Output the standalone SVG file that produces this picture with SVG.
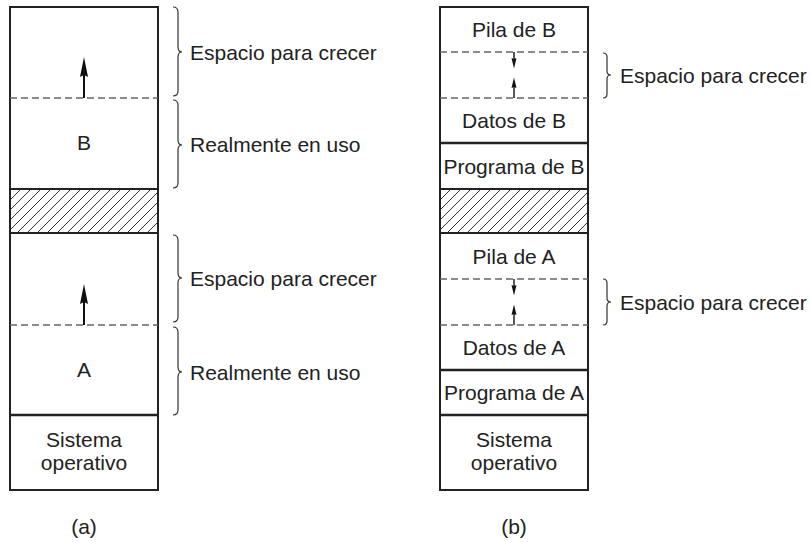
<svg xmlns="http://www.w3.org/2000/svg" width="811" height="542" viewBox="0 0 811 542">
<style>
.box{fill:#fff;stroke:#222;stroke-width:2}
.solid{stroke:#222;stroke-width:2.5;fill:none}
.dash{stroke:#666;stroke-width:1.3;stroke-dasharray:7 4;fill:none}
.brace{stroke:#333;stroke-width:1.2;fill:none}
.shaft{stroke:#111;stroke-width:2}
.shaft2{stroke:#111;stroke-width:1.4}
.head{fill:#111}
.t{font-family:"Liberation Sans",Arial,sans-serif;font-size:21px;fill:#222}
.c{text-anchor:middle}
.hatch{fill:url(#hp);stroke:#222;stroke-width:2}
</style>
<defs>
<pattern id="hp" patternUnits="userSpaceOnUse" width="10" height="10">
<rect width="10" height="10" fill="#fff"/>
<path d="M-2,12 L12,-2 M-2,2 L2,-2 M8,12 L12,8" stroke="#333" stroke-width="1"/>
</pattern>
</defs>

<g id="column-a">
<rect class="box" x="10" y="7" width="148" height="483"/>
<rect class="hatch" x="10" y="189" width="148" height="44"/>
<line class="dash" x1="10" y1="98" x2="158" y2="98"/>
<line class="dash" x1="10" y1="325" x2="158" y2="325"/>
<line class="solid" x1="10" y1="415" x2="158" y2="415"/>
</g>
<g id="a-B"><text class="t c" x="84" y="150">B</text></g>
<g id="a-A"><text class="t c" x="84" y="377">A</text></g>
<g id="a-os"><text class="t c" x="84" y="447">Sistema</text><text class="t c" x="84" y="470">operativo</text></g>

<g id="column-b">
<rect class="box" x="440" y="7" width="148" height="483"/>
<rect class="hatch" x="440" y="189" width="148" height="44"/>
<line class="dash" x1="440" y1="52" x2="588" y2="52"/>
<line class="dash" x1="440" y1="98" x2="588" y2="98"/>
<line class="solid" x1="440" y1="143" x2="588" y2="143"/>
<line class="dash" x1="440" y1="279" x2="588" y2="279"/>
<line class="dash" x1="440" y1="325" x2="588" y2="325"/>
<line class="solid" x1="440" y1="370" x2="588" y2="370"/>
<line class="solid" x1="440" y1="415" x2="588" y2="415"/>
</g>
<g id="b-pilaB"><text class="t c" x="514" y="37">Pila de B</text></g>
<g id="b-datosB"><text class="t c" x="514" y="128">Datos de B</text></g>
<g id="b-progB"><text class="t c" x="514" y="173.5">Programa de B</text></g>
<g id="b-pilaA"><text class="t c" x="514" y="263.5">Pila de A</text></g>
<g id="b-datosA"><text class="t c" x="514" y="355">Datos de A</text></g>
<g id="b-progA"><text class="t c" x="514" y="400">Programa de A</text></g>
<g id="b-os"><text class="t c" x="514" y="447">Sistema</text><text class="t c" x="514" y="470">operativo</text></g>

<g id="connectors">
<line class="shaft" x1="84" y1="98" x2="84" y2="72"/>
<path class="head" d="M84,57 L88,77 L84,75 L80,77 Z"/>
<line class="shaft" x1="84" y1="325" x2="84" y2="299"/>
<path class="head" d="M84,284 L88,304 L84,302 L80,304 Z"/>
<line class="shaft2" x1="514" y1="52" x2="514" y2="60"/>
<path class="head" d="M514,68.5 L516.5,58 L514,59 L511.5,58 Z"/>
<line class="shaft2" x1="514" y1="98" x2="514" y2="86"/>
<path class="head" d="M514,77.5 L516.5,88 L514,87 L511.5,88 Z"/>
<line class="shaft2" x1="514" y1="279" x2="514" y2="287"/>
<path class="head" d="M514,295.5 L516.5,285 L514,286 L511.5,285 Z"/>
<line class="shaft2" x1="514" y1="325" x2="514" y2="313"/>
<path class="head" d="M514,304.5 L516.5,315 L514,314 L511.5,315 Z"/>
</g>

<g id="brace-a1"><path class="brace" d="M173,7 Q178,7 178,12 L178,47 Q178,52 182,52 Q178,52 178,57 L178,91 Q178,96 173,96"/><text class="t" x="190" y="59.5">Espacio para crecer</text></g>
<g id="brace-a2"><path class="brace" d="M173,100 Q178,100 178,105 L178,140 Q178,145 182,145 Q178,145 178,150 L178,183 Q178,188 173,188"/><text class="t" x="190" y="152">Realmente en uso</text></g>
<g id="brace-a3"><path class="brace" d="M173,235 Q178,235 178,240 L178,273 Q178,278 182,278 Q178,278 178,283 L178,317 Q178,322 173,322"/><text class="t" x="190" y="285.5">Espacio para crecer</text></g>
<g id="brace-a4"><path class="brace" d="M173,327 Q178,327 178,332 L178,367 Q178,372 182,372 Q178,372 178,377 L178,410 Q178,415 173,415"/><text class="t" x="190" y="379.5">Realmente en uso</text></g>
<g id="brace-b1"><path class="brace" d="M603,53 Q607,53 607,57 L607,71 Q607,75 611,75 Q607,75 607,79 L607,94 Q607,98 603,98"/><text class="t" x="620" y="82.5">Espacio para crecer</text></g>
<g id="brace-b2"><path class="brace" d="M603,279 Q607,279 607,283 L607,298 Q607,302 611,302 Q607,302 607,306 L607,321 Q607,325 603,325"/><text class="t" x="620" y="309.5">Espacio para crecer</text></g>

<g id="caption-a"><text class="t c" x="84" y="534">(a)</text></g>
<g id="caption-b"><text class="t c" x="514" y="534">(b)</text></g>
</svg>
